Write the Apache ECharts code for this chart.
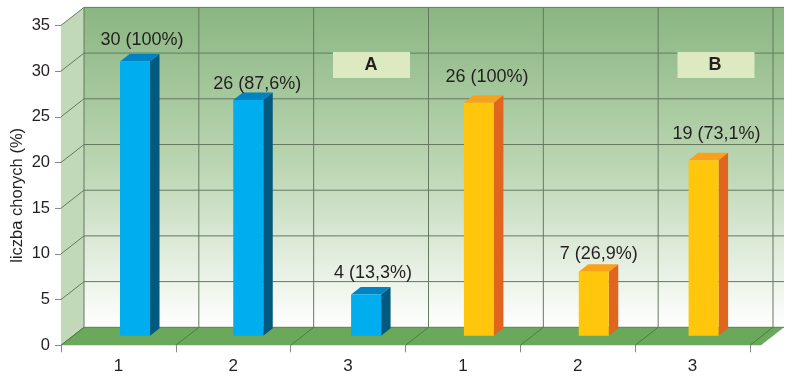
<!DOCTYPE html>
<html>
<head>
<meta charset="utf-8">
<style>
  html, body { margin: 0; padding: 0; background: #fff; }
  #main { width: 800px; height: 377px; }
</style>
<script src="https://cdn.jsdelivr.net/npm/echarts@6/dist/echarts.min.js"></script>
</head>
<body>
<div id="main"></div>
<script>
// dane
const categories = ['1', '2', '3', '1', '2', '3'];
const yTicks = [0, 5, 10, 15, 20, 25, 30, 35];
const groupA = [30, 25.8, 4.5];
const groupB = [25.5, 7, 19.2];
const labelsA = ['30 (100%)', '26 (87,6%)', '4 (13,3%)'];
const labelsB = ['26 (100%)', '7 (26,9%)', '19 (73,1%)'];
const groupNames = ['A', 'B'];

// pseudo 3D
const wallDx = 23, wallDy = -18, wallExtra = 11;
const barW = 30, barDx = 9.5, barDy = -7.5, barLift = 9.6;
const barShift = [16.6, 15, 18, 16, 16, 11]; // slupki nie sa rowno w kategoriach
const labelShift = [[7, -14], [9, -8.5], [7, -14.5], [8, -18], [5, -10], [13, -18.5]];
const blue = ['#00adef', '#0083c4', '#005a80'];
const orange = ['#ffc60b', '#f9a11b', '#e0661f'];
const font = '18px "Liberation Sans", Arial, sans-serif';

function poly(points, fill) {
  return { type: 'polygon', shape: { points }, style: { fill } };
}
function line(x1, y1, x2, y2, stroke) {
  return { type: 'line', shape: { x1, y1, x2, y2 }, style: { stroke, lineWidth: 1 } };
}

function renderWalls(params, api) {
  const r = params.coordSys;
  const left = r.x, bottom = r.y + r.height, top = r.y;
  const right = r.x + r.width + wallExtra;
  const grid = '#65795f';
  const children = [
    poly([[left, bottom], [left + wallDx, bottom + wallDy], [left + wallDx, top + wallDy], [left, top]], '#c1d9b9'),
    {
      type: 'rect',
      shape: { x: left + wallDx, y: top + wallDy, width: right - left, height: r.height },
      style: {
        fill: new echarts.graphic.LinearGradient(0, 0, 0, 1, [
          { offset: 0, color: '#8ab682' },
          { offset: 0.5, color: '#bcd6b3' },
          { offset: 1, color: '#ffffff' }
        ])
      }
    },
    poly([[left, bottom], [left + wallDx, bottom + wallDy], [right + wallDx, bottom + wallDy], [right, bottom]], '#6aa85c')
  ];
  yTicks.forEach(function (t) {
    const y = api.coord([0, t])[1];
    children.push(line(left, y, left + wallDx, y + wallDy, grid));
    children.push(line(left + wallDx, y + wallDy, right + wallDx, y + wallDy, grid));
  });
  for (let i = 0; i <= categories.length; i++) {
    const x = left + i * r.width / categories.length;
    children.push(line(x + wallDx, top + wallDy, x + wallDx, bottom + wallDy, grid));
    children.push(line(x, bottom, x + wallDx, bottom + wallDy, '#4f7a46'));
  }
  return { type: 'group', children };
}

function renderBar(colors, labels, offset) {
  return function (params, api) {
    const idx = api.value(0);
    const c = api.coord([idx, api.value(1)]);
    const base = api.coord([idx, 0])[1] - barLift;
    const x = c[0] + barShift[idx] - barW / 2;
    const y = c[1] - barLift;
    const ls = labelShift[idx];
    return {
      type: 'group',
      children: [
        poly([[x, y], [x + barDx, y + barDy], [x + barW + barDx, y + barDy], [x + barW, y]], colors[1]),
        poly([[x + barW, y], [x + barW + barDx, y + barDy], [x + barW + barDx, base + barDy], [x + barW, base]], colors[2]),
        { type: 'rect', shape: { x, y, width: barW, height: base - y }, style: { fill: colors[0] } },
        {
          type: 'text',
          style: {
            text: labels[idx - offset],
            x: x + barW / 2 + ls[0],
            y: y + barDy + ls[1],
            align: 'center',
            verticalAlign: 'middle',
            font,
            fill: '#231f20'
          }
        }
      ]
    };
  };
}

let myChart = echarts.init(document.getElementById('main'), null, { renderer: 'canvas' });
myChart.setOption({
  animation: false,
  backgroundColor: '#ffffff',
  grid: { left: 61, right: 50, top: 25.4, bottom: 31.7, outerBoundsMode: 'none' },
  xAxis: {
    type: 'category',
    data: categories,
    axisLine: { show: false },
    axisTick: { show: true, length: 7, lineStyle: { color: '#888888' } },
    axisLabel: { color: '#231f20', fontSize: 17, margin: 13, fontFamily: 'Liberation Sans' }
  },
  yAxis: {
    type: 'value',
    min: 0,
    max: 35,
    interval: 5,
    name: 'liczba chorych (%)',
    nameLocation: 'middle',
    nameMoveOverlap: false,
    nameGap: 35,
    nameTextStyle: { color: '#231f20', fontSize: 16.5, fontFamily: 'Liberation Sans', padding: [0, 20, 0, 0] },
    splitLine: { show: false },
    axisLine: { show: false },
    axisTick: { show: true, length: 6, lineStyle: { color: '#888888' } },
    axisLabel: { color: '#231f20', fontSize: 16.5, margin: 11, fontFamily: 'Liberation Sans' }
  },
  graphic: [
    { type: 'rect', z: 50, shape: { x: 333, y: 52, width: 77, height: 26 }, style: { fill: '#dde9c0' } },
    { type: 'text', z: 51, style: { text: groupNames[0], x: 371, y: 65, align: 'center', verticalAlign: 'middle', font: 'bold 18px "Liberation Sans"', fill: '#231f20' } },
    { type: 'rect', z: 50, shape: { x: 677.5, y: 52, width: 77, height: 26 }, style: { fill: '#dde9c0' } },
    { type: 'text', z: 51, style: { text: groupNames[1], x: 715, y: 65, align: 'center', verticalAlign: 'middle', font: 'bold 18px "Liberation Sans"', fill: '#231f20' } }
  ],
  series: [
    {
      type: 'custom',
      silent: true,
      z: 1,
      clip: false,
      renderItem: renderWalls,
      data: [[0, 0]]
    },
    {
      name: groupNames[0],
      type: 'custom',
      z: 3,
      clip: false,
      renderItem: renderBar(blue, labelsA, 0),
      encode: { x: 0, y: 1 },
      data: groupA.map(function (v, i) { return [i, v]; })
    },
    {
      name: groupNames[1],
      type: 'custom',
      z: 3,
      clip: false,
      renderItem: renderBar(orange, labelsB, 3),
      encode: { x: 0, y: 1 },
      data: groupB.map(function (v, i) { return [i + 3, v]; })
    }
  ]
});
</script>
</body>
</html>
